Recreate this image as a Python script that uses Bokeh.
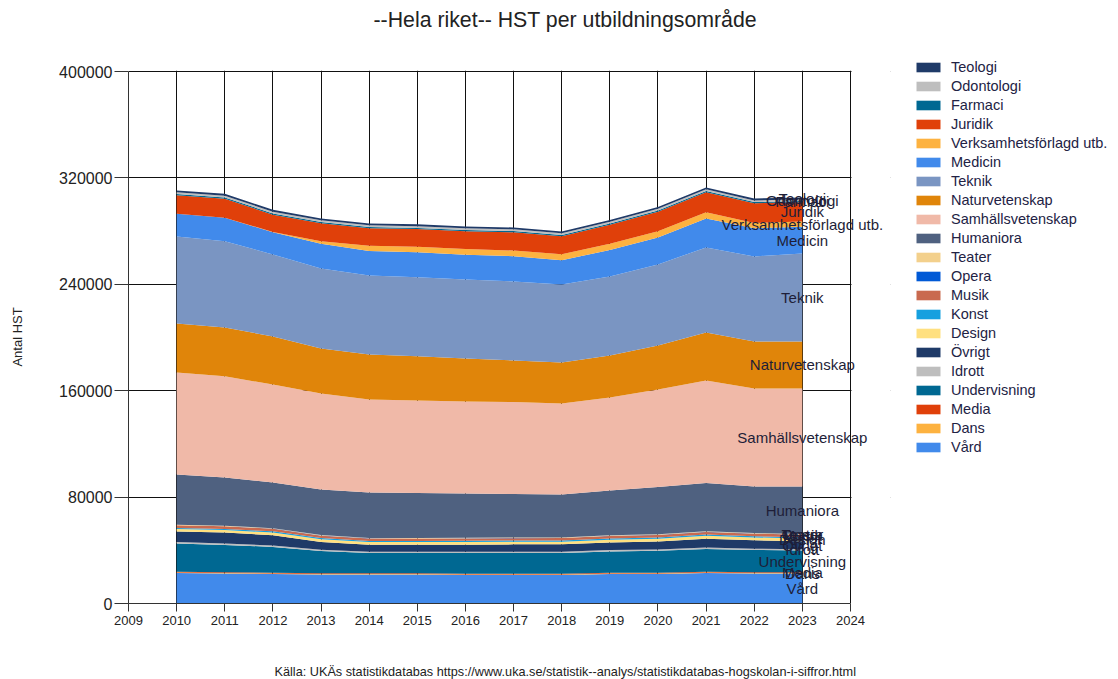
from bokeh.plotting import figure
from bokeh.models import (ColumnDataSource, FixedTicker, Legend, LegendItem, LabelSet,
                          Title, BoxAnnotation)
from bokeh.embed import file_html
from bokeh.resources import INLINE
from bokeh.core.properties import value

years = list(range(2010, 2024))

# Series values (HST), bottom of stack to top
vard = [22900, 22550, 22200, 21800, 21800, 21800, 21400, 21400, 21400, 22200, 22200, 22900, 22550, 22550]
dans = [350, 350, 340, 330, 330, 330, 330, 330, 340, 350, 360, 380, 370, 360]
media = [650, 640, 620, 600, 590, 580, 580, 580, 590, 600, 620, 640, 630, 620]
undervisning = [21300, 20500, 19400, 16700, 15200, 15200, 15600, 15700, 15600, 16000, 16400, 17100, 16700, 16300]
idrott = [1050, 1050, 1000, 1000, 950, 950, 950, 950, 950, 1000, 1000, 1050, 1000, 1000]
ovrigt = [7900, 8200, 7800, 5900, 5300, 5300, 5400, 5500, 5600, 5700, 6000, 6600, 6300, 6000]
design = [1800, 1900, 2000, 2000, 2000, 2000, 2000, 2000, 2000, 2100, 2100, 2200, 2100, 2100]
konst = [900, 900, 900, 850, 850, 850, 850, 850, 850, 900, 900, 950, 900, 900]
musik = [1900, 1900, 1900, 1850, 1800, 1800, 1800, 1800, 1850, 1900, 1950, 2000, 1950, 1900]
opera = [150, 150, 150, 150, 150, 150, 150, 150, 150, 150, 150, 150, 150, 150]
teater = [350, 350, 350, 350, 350, 350, 350, 350, 350, 350, 350, 350, 350, 350]
humaniora = [37800, 36300, 34300, 34200, 34200, 33800, 33300, 32700, 32300, 33700, 35600, 36300, 35000, 35800]
samhallsvetenskap = [76700, 76000, 73700, 72200, 69900, 69600, 69200, 69200, 68400, 69900, 73300, 77100, 73700, 73700]
naturvetenskap = [36800, 36800, 36100, 33800, 33800, 33100, 32300, 31200, 30800, 31600, 33100, 36100, 35300, 35300]
teknik = [65400, 64700, 61700, 60200, 59400, 59400, 59400, 59400, 58700, 59400, 60900, 63900, 63900, 66200]
medicin = [17100, 17800, 16600, 18600, 18500, 18800, 18600, 19000, 18200, 20000, 20300, 21700, 21200, 20100]
verksamhet = [0, 0, 300, 1800, 3800, 4200, 4300, 4300, 4600, 4600, 4700, 4800, 4000, 3800]
juridik = [13900, 14300, 13000, 13600, 13200, 13300, 13400, 13700, 13500, 14300, 14600, 15000, 14800, 14600]
farmaci = [900] * 14
odontologi = [1300] * 14
teologi = [1400] * 14

names = ["Vård", "Dans", "Media", "Undervisning", "Idrott", "Övrigt", "Design", "Konst",
         "Musik", "Opera", "Teater", "Humaniora", "Samhällsvetenskap", "Naturvetenskap",
         "Teknik", "Medicin", "Verksamhetsförlagd utb.", "Juridik", "Farmaci", "Odontologi", "Teologi"]
series = [vard, dans, media, undervisning, idrott, ovrigt, design, konst, musik, opera, teater,
          humaniora, samhallsvetenskap, naturvetenskap, teknik, medicin, verksamhet, juridik,
          farmaci, odontologi, teologi]
colors = ["#418AEB", "#FDB240", "#E0400A", "#006892", "#BEBEBE", "#1F3A68", "#FFE080", "#16A0DF",
          "#C96A4F", "#0059D6", "#F3D08C", "#4F6180", "#F0B9A8", "#E0850A", "#7A95C2", "#418AEB",
          "#FDB240", "#E0400A", "#006892", "#BEBEBE", "#1F3A68"]

x_ticks = list(range(2009, 2025))
y_ticks = [0, 80000, 160000, 240000, 320000, 400000]
y_tick_labels = ["0", "80000", "160000", "240000", "320000", "400000"]

title_text = "--Hela riket-- HST per utbildningsområde"
source_text = "Källa: UKÄs statistikdatabas https://www.uka.se/statistik--analys/statistikdatabas-hogskolan-i-siffror.html"

FONT = "Liberation Sans"

X0, X1 = 2009, 2024
Y0, Y1 = 0, 400000
PX_PER_YEAR = 722 / 15.0
PX_PER_UNIT = 532 / 400000.0
FRAME_W = 762
FRAME_H = 533

keys = ["s%d" % i for i in range(len(series))]
data = {"year": years}
for k, s in zip(keys, series):
    data[k] = s
src = ColumnDataSource(data)

p = figure(frame_width=FRAME_W, frame_height=FRAME_H,
           x_range=(X0, X0 + FRAME_W / PX_PER_YEAR),
           y_range=(Y0, Y0 + FRAME_H / PX_PER_UNIT),
           output_backend="svg", toolbar_location=None,
           min_border_left=128, min_border_right=1118 - 128 - FRAME_W,
           min_border_top=70, min_border_bottom=76)
p.background_fill_color = "white"
p.border_fill_color = "white"
p.outline_line_color = None

renderers = p.varea_stack(stackers=keys, x="year", color=colors, source=src)

# grid
p.xgrid.ticker = FixedTicker(ticks=x_ticks)
p.ygrid.ticker = FixedTicker(ticks=y_ticks)
for g in (p.xgrid, p.ygrid):
    g.grid_line_color = "#111111"
    g.grid_line_width = 1

# blank area right of the plot box (space for overflowing end labels)
p.add_layout(BoxAnnotation(left=X1 + 0.02, right=X1 + 50, fill_color="white", fill_alpha=1,
                           line_color=None, level="underlay"))

# axes
p.xaxis.ticker = FixedTicker(ticks=x_ticks)
p.yaxis.ticker = FixedTicker(ticks=y_ticks)
p.xaxis.bounds = (X0, X1)
p.yaxis.bounds = (Y0, Y1)
p.yaxis.major_label_overrides = {t: l for t, l in zip(y_ticks, y_tick_labels)}
for ax in (p.xaxis, p.yaxis):
    ax.axis_line_color = "#333333"
    ax.major_tick_line_color = "#333333"
    ax.minor_tick_line_color = None
    ax.major_tick_in = 0
    ax.major_label_text_font = FONT
    ax.major_label_text_color = "#222222"
p.yaxis.major_tick_out = 14
p.yaxis.major_label_standoff = 2
p.yaxis.major_label_text_font_size = "16px"
p.xaxis.major_tick_out = 8
p.xaxis.major_label_standoff = 4
p.xaxis.major_label_text_font_size = "13px"
p.yaxis.axis_label = "Antal HST"
p.yaxis.axis_label_text_font = FONT
p.yaxis.axis_label_text_font_size = "13px"
p.yaxis.axis_label_text_font_style = "normal"
p.yaxis.axis_label_text_color = "#222222"
p.yaxis.axis_label_standoff = 31

# end labels at last year
mids = []
cum = 0
for s in series:
    mids.append(cum + s[-1] / 2.0)
    cum += s[-1]
lab_src = ColumnDataSource(dict(x=[years[-1]] * len(names), y=mids, text=names))
p.add_layout(LabelSet(x="x", y="y", text="text", source=lab_src, text_align="center",
                      text_baseline="middle", text_font=value(FONT), text_font_size="15px",
                      text_color="#1e1e38"))

# legend (reverse order: top layer first)
items = [LegendItem(label=n, renderers=[r]) for n, r in zip(names[::-1], renderers[::-1])]
legend = Legend(items=items, location=(23, 148), padding=0, margin=0,
                border_line_color=None, background_fill_alpha=0,
                glyph_width=30, glyph_height=12, label_height=12, spacing=3,
                label_standoff=8, label_text_font=FONT, label_text_font_size="14.5px",
                label_text_color="#222244")
p.add_layout(legend, "right")

# title (spacer first = nearest the frame) and source note
p.add_layout(Title(text=" ", text_font_size="1px", standoff=31), "above")
p.add_layout(Title(text=title_text, align="left", offset=245, text_font=FONT,
                   text_font_size="21.3px", text_font_style="normal", text_color="#222222"),
             "above")
p.add_layout(Title(text=" ", text_font_size="1px", standoff=32), "below")
p.add_layout(Title(text=source_text, align="left", offset=146, text_font=FONT, standoff=0,
                   text_font_size="12.7px", text_font_style="normal", text_color="#222222"),
             "below")

open("out.html", "w").write(file_html(p, INLINE))
